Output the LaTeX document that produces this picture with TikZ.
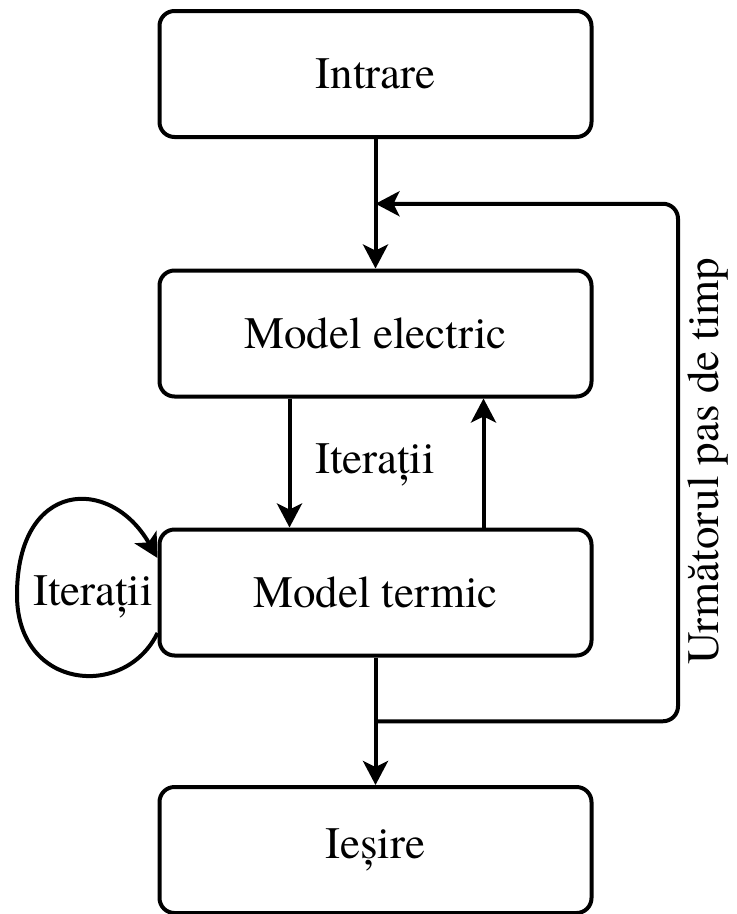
\documentclass[tikz,border=0pt]{standalone}
\usepackage{fontspec}
\setmainfont{texgyretermes-regular.otf}
\newfontfamily\blockfont{texgyretermes-regular.otf}
\usetikzlibrary{arrows.meta,calc}
\begin{document}
\begin{tikzpicture}[x=1pt,y=-1pt,
  block/.style={draw, line width=4pt, rounded corners=15pt,
    minimum width=432pt, minimum height=126pt, inner sep=0pt,
    font=\blockfont\fontsize{45}{52}\selectfont},
  lbl/.style={font=\blockfont\fontsize{45}{52}\selectfont, inner sep=0pt},
  flow/.style={line width=4pt, -{Stealth[length=24pt,width=25pt,inset=6pt]}}]
\useasboundingbox (0,0) rectangle (737,914);

% process blocks
\node[block] (in)  at (375.5,74)    {Intrare};
\node[block] (me)  at (375.5,333.5) {Model electric};
\node[block] (mt)  at (375.5,592.5) {Model termic};
\node[block] (out) at (375.5,850)   {Ieșire};

% junction points of the time-step loop
\coordinate (join)  at ($(in.south)!0.5!(me.north)$);
\coordinate (split) at ($(mt.south)!0.5!(out.north)$);
\coordinate (rail)  at (678,0);

% main flow
\draw[flow] (in.south) -- (me.north);
\draw[flow] (mt.south) -- (out.north);

% coupling iterations between the two models
\draw[flow] ($(me.south)+(-86,0)$) -- ($(mt.north)+(-86,0)$);
\draw[flow] ($(mt.north)+(108,0)$) -- ($(me.south)+(108,0)$);
\node[lbl] (itmid) at (375,465) {Iterații};

% inner iterations of the thermal model
\coordinate (loopout) at ($(mt.west)+(0,40.5)$);
\coordinate (loopin)  at ($(mt.west)+(0,-34.5)$);
\draw[flow] (loopout) .. controls (125,700) and (17,690) .. (17,595)
  .. controls (17,480) and (110,475) .. (loopin);
\node[lbl] (itloop) at (93,597) {Iterații};

% next time step feedback
\draw[flow, rounded corners=15pt] (split) -- (split -| rail) -- (join -| rail) -- (join);
\node[lbl, rotate=90] (next) at (708,461) {Următorul pas de timp};
\end{tikzpicture}
\end{document}
